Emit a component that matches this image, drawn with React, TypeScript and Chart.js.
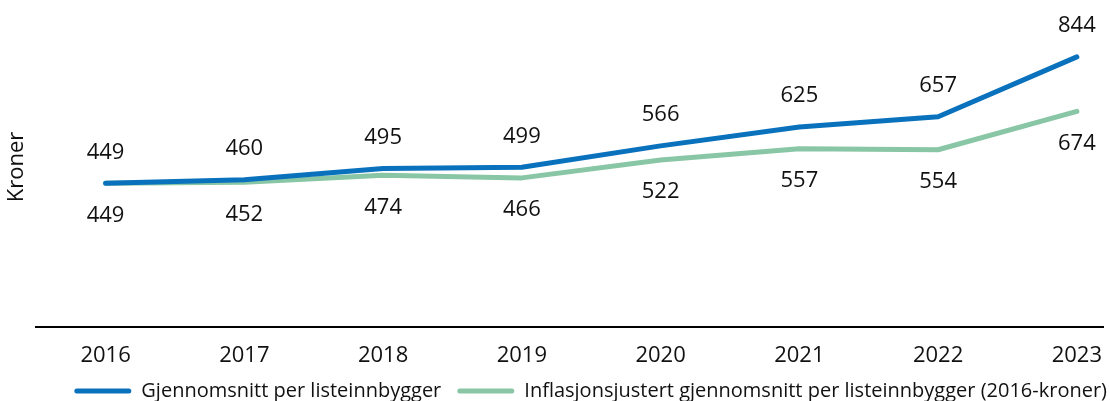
import { useEffect, useRef } from "react";
import { Chart, registerables } from "chart.js";

Chart.register(...registerables);

const years = ["2016", "2017", "2018", "2019", "2020", "2021", "2022", "2023"];
const average = [449, 460, 495, 499, 566, 625, 657, 844];
const adjusted = [449, 452, 474, 466, 522, 557, 554, 674];
const seriesNames = [
  "Gjennomsnitt per listeinnbygger",
  "Inflasjonsjustert gjennomsnitt per listeinnbygger (2016-kroner)",
];
const BLUE = "#0a72bd";
const GREEN = "#88c6a5";
const FONT = "'Open Sans', 'Noto Sans', sans-serif";

const labelPlugin = {
  id: "valueLabels",
  afterDatasetsDraw(chart: any) {
    const ctx = chart.ctx;
    ctx.save();
    ctx.font = `22px ${FONT}`;
    ctx.fillStyle = "#111";
    ctx.textAlign = "center";
    ctx.textBaseline = "middle";
    chart.data.datasets.forEach((ds: any, di: number) => {
      const meta = chart.getDatasetMeta(di);
      meta.data.forEach((pt: any, i: number) => {
        const v = ds.data[i].y;
        const dy = di === 0 ? -31 : 32;
        ctx.fillText(String(v), pt.x, pt.y + dy);
      });
    });
    ctx.restore();
  },
};

export default function App() {
  const ref = useRef<HTMLCanvasElement>(null);
  useEffect(() => {
    if (!ref.current) return;
    const chart = new Chart(ref.current, {
      type: "line",
      data: {
        datasets: [
          {
            label: seriesNames[0],
            data: average.map((v, i) => ({ x: i, y: v })),
            borderColor: BLUE,
            backgroundColor: BLUE,
            borderWidth: 5,
            pointRadius: 0,
            borderCapStyle: "round",
            borderJoinStyle: "round",
          },
          {
            label: seriesNames[1],
            data: adjusted.map((v, i) => ({ x: i, y: v })),
            borderColor: GREEN,
            backgroundColor: GREEN,
            borderWidth: 5,
            pointRadius: 0,
            borderCapStyle: "round",
            borderJoinStyle: "round",
          },
        ],
      },
      options: {
        animation: false,
        responsive: true,
        maintainAspectRatio: false,
        layout: { padding: { top: 7, left: 0, right: -13, bottom: -10 } },
        plugins: {
          legend: {
            position: "bottom",
            align: "end",
            labels: {
              font: { family: FONT, size: 20 },
              color: "#111",
              boxWidth: 57,
              boxHeight: 5,
              padding: 16,
              useBorderRadius: true,
              borderRadius: 2.5,
              generateLabels: (c: any) =>
                c.data.datasets.map((d: any, i: number) => ({
                  text: d.label,
                  fillStyle: d.borderColor,
                  strokeStyle: d.borderColor,
                  lineWidth: 0,
                  borderRadius: 2.5,
                  datasetIndex: i,
                  fontColor: "#111",
                })),
            },
          },
          tooltip: { enabled: false },
        },
        scales: {
          x: {
            type: "linear",
            min: -0.5015,
            max: 7.194,
            grid: { display: false },
            border: { display: true, color: "#000", width: 2 },
            afterBuildTicks: (scale: any) => {
              scale.ticks = years.map((_, i) => ({ value: i }));
            },
            afterFit: (scale: any) => {
              scale.height = 38;
            },
            ticks: {
              font: { family: FONT, size: 22 },
              color: "#111",
              padding: 8,
              maxRotation: 0,
              callback: (v: any) => years[v],
            },
          },
          y: {
            min: 0,
            max: 1000,
            grid: { display: false },
            border: { display: false },
            ticks: { display: false },
            title: {
              display: true,
              text: "Kroner",
              font: { family: FONT, size: 22 },
              color: "#111",
            },
            afterFit: (scale: any) => {
              scale.width = 36;
            },
          },
        },
      },
      plugins: [labelPlugin],
    });
    return () => chart.destroy();
  }, []);
  return (
    <div style={{ position: "absolute", left: 0, top: 0, width: 1110, height: 401 }}>
      <canvas ref={ref} />
    </div>
  );
}
